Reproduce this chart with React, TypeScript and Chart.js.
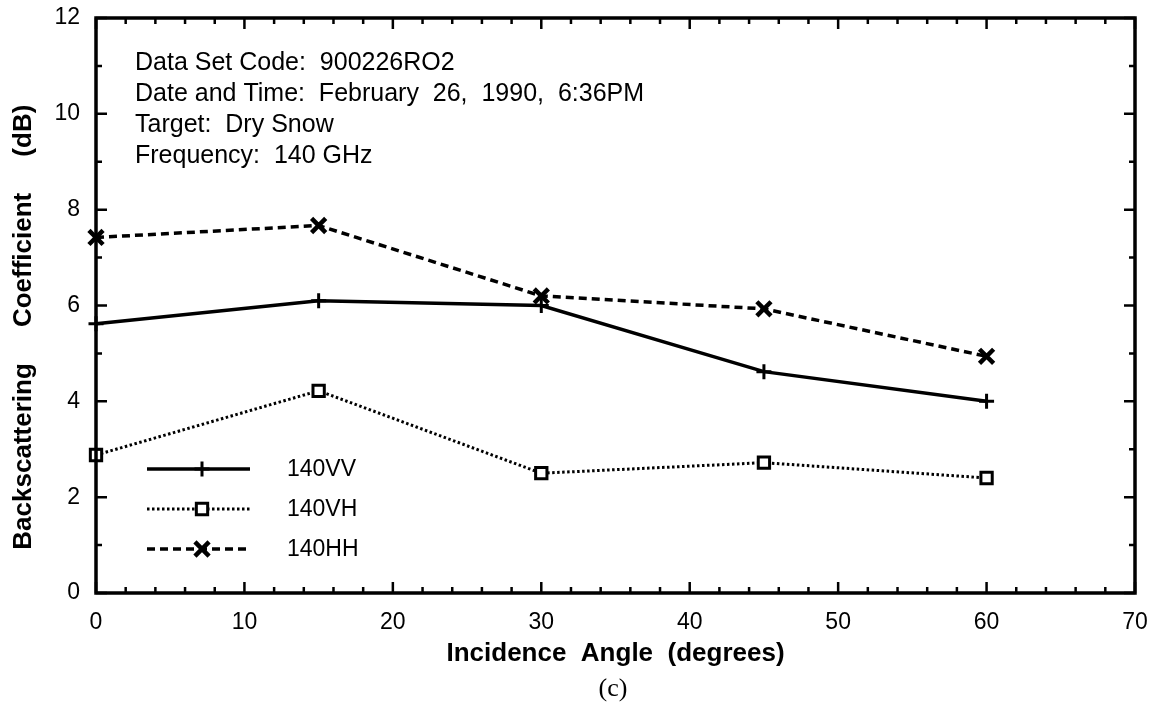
import React, { useEffect, useRef } from 'react';
import { Chart, registerables } from 'chart.js';
import { drawPoint } from 'chart.js/helpers';

Chart.register(...registerables);

// ---- data ----
const angles = [0, 15, 30, 45, 60];
const vv = [5.62, 6.1, 6.0, 4.62, 4.0];
const vh = [2.88, 4.22, 2.5, 2.72, 2.4];
const hh = [7.42, 7.67, 6.2, 5.93, 4.94];
const seriesLabels = ['140VV', '140VH', '140HH'];
const xRange = [0, 70];
const yRange = [0, 12];
const xMajorStep = 10;
const xMinorStep = 2;
const yMajorStep = 2;
const yMinorStep = 1;
const infoLines = [
  'Data Set Code:  900226RO2',
  'Date and Time:  February  26,  1990,  6:36PM',
  'Target:  Dry Snow',
  'Frequency:  140 GHz',
];
const xTitle = 'Incidence  Angle  (degrees)';
const yTitle = 'Backscattering     Coefficient     (dB)      ';
const caption = '(c)';

const FONT = "'Liberation Sans', Arial, Helvetica, sans-serif";

const toPoints = (ys: number[]) => angles.map((x, i) => ({ x, y: ys[i] }));

const framePlugin = {
  id: 'frameTicks',
  afterDatasetsDraw(chart: any) {
    const { ctx, chartArea } = chart;
    const xs = chart.scales.x;
    const ys = chart.scales.y;
    const { left, right, top, bottom } = chartArea;
    ctx.save();
    ctx.strokeStyle = '#000';
    ctx.lineWidth = 3.5;
    ctx.strokeRect(left, top, right - left, bottom - top);
    ctx.lineWidth = 2.5;
    ctx.beginPath();
    const major = 11;
    const minor = 6;
    for (let v = xRange[0]; v <= xRange[1] + 1e-9; v += xMinorStep) {
      const px = xs.getPixelForValue(v);
      const len = Math.abs(v % xMajorStep) < 1e-9 ? major : minor;
      ctx.moveTo(px, bottom);
      ctx.lineTo(px, bottom - len);
      ctx.moveTo(px, top);
      ctx.lineTo(px, top + len);
    }
    for (let v = yRange[0]; v <= yRange[1] + 1e-9; v += yMinorStep) {
      const py = ys.getPixelForValue(v);
      const len = Math.abs(v % yMajorStep) < 1e-9 ? major : minor;
      ctx.moveTo(left, py);
      ctx.lineTo(left + len, py);
      ctx.moveTo(right, py);
      ctx.lineTo(right - len, py);
    }
    ctx.stroke();
    ctx.restore();
  },
};

const textPlugin = {
  id: 'infoText',
  afterDraw(chart: any) {
    const { ctx } = chart;
    ctx.save();
    ctx.fillStyle = '#000';
    ctx.font = `25px ${FONT}`;
    ctx.textAlign = 'left';
    ctx.textBaseline = 'alphabetic';
    infoLines.forEach((line, i) => {
      ctx.fillText(line, 135, 70 + i * 31);
    });
    ctx.font = `26px 'Liberation Serif', 'Times New Roman', serif`;
    ctx.textAlign = 'center';
    ctx.textBaseline = 'middle';
    ctx.fillText(caption, 613, 689);
    ctx.restore();
  },
};

const legendPlugin = {
  id: 'innerLegend',
  afterDraw(chart: any) {
    const { ctx } = chart;
    ctx.save();
    chart.data.datasets.forEach((ds: any, i: number) => {
      const y = 469 + i * 40;
      ctx.strokeStyle = '#000';
      ctx.lineWidth = ds.borderWidth;
      ctx.setLineDash(ds.borderDash || []);
      ctx.beginPath();
      ctx.moveTo(147, y);
      ctx.lineTo(250, y);
      ctx.stroke();
      ctx.setLineDash([]);
      ctx.fillStyle = ds.pointBackgroundColor;
      ctx.strokeStyle = '#000';
      ctx.lineWidth = ds.pointBorderWidth;
      drawPoint(ctx, { pointStyle: ds.pointStyle, radius: ds.pointRadius, rotation: 0, borderWidth: ds.pointBorderWidth }, 202, y);
      ctx.fillStyle = '#000';
      ctx.font = `23px ${FONT}`;
      ctx.textAlign = 'left';
      ctx.textBaseline = 'middle';
      ctx.fillText(ds.label, 287, y + 1);
    });
    ctx.restore();
  },
};

export default function App() {
  const ref = useRef<HTMLCanvasElement>(null);
  useEffect(() => {
    if (!ref.current) return;
    Chart.defaults.font.family = FONT;
    Chart.defaults.color = '#000';
    const chart = new Chart(ref.current, {
      type: 'line',
      data: {
        datasets: [
          {
            label: seriesLabels[0],
            data: toPoints(vv),
            borderColor: '#000',
            borderWidth: 3.5,
            pointStyle: 'cross',
            pointRadius: 7.5,
            pointBorderWidth: 3,
            pointBackgroundColor: '#fff',
            pointBorderColor: '#000',
            clip: false,
          },
          {
            label: seriesLabels[1],
            data: toPoints(vh),
            borderColor: '#000',
            borderWidth: 3,
            borderDash: [2.5, 2.5],
            pointStyle: 'rect',
            pointRadius: 8,
            pointBorderWidth: 3,
            pointBackgroundColor: '#fff',
            pointBorderColor: '#000',
            clip: false,
          },
          {
            label: seriesLabels[2],
            data: toPoints(hh),
            borderColor: '#000',
            borderWidth: 3.5,
            borderDash: [8, 5],
            pointStyle: 'crossRot',
            pointRadius: 10,
            pointBorderWidth: 4.5,
            pointBackgroundColor: '#fff',
            pointBorderColor: '#000',
            clip: false,
          },
        ] as any,
      },
      options: {
        responsive: false,
        animation: false,
        layout: { autoPadding: false, padding: { left: 0, top: 18, right: 21, bottom: 0 } },
        plugins: { legend: { display: false }, tooltip: { enabled: false } },
        scales: {
          x: {
            type: 'linear',
            min: xRange[0],
            max: xRange[1],
            grid: { display: false, drawTicks: false },
            border: { display: false },
            ticks: { stepSize: xMajorStep, padding: 16, font: { size: 23, family: FONT }, color: '#000', maxRotation: 0 },
            title: {
              display: true,
              text: xTitle,
              color: '#000',
              font: { size: 26, weight: 'bold', family: FONT, lineHeight: 1.2 },
              padding: { top: 0, bottom: 47 },
            },
            afterFit: (s: any) => {
              s.height = 123;
              s.paddingLeft = 0;
              s.paddingRight = 0;
            },
          },
          y: {
            type: 'linear',
            min: yRange[0],
            max: yRange[1],
            grid: { display: false, drawTicks: false },
            border: { display: false },
            ticks: { stepSize: yMajorStep, padding: 16, font: { size: 23, family: FONT }, color: '#000' },
            title: {
              display: true,
              text: yTitle,
              color: '#000',
              font: { size: 26, weight: 'bold', family: FONT, lineHeight: 1.2 },
              padding: { top: 8, bottom: 0 },
            },
            afterFit: (s: any) => {
              s.width = 96;
              s.paddingTop = 0;
              s.paddingBottom = 0;
            },
          },
        },
      } as any,
      plugins: [framePlugin, textPlugin, legendPlugin],
    });
    return () => chart.destroy();
  }, []);
  return (
    <div style={{ position: 'absolute', left: 0, top: 0, width: 1156, height: 716, background: '#fff' }}>
      <canvas ref={ref} width={1156} height={716} style={{ display: 'block' }} />
    </div>
  );
}
